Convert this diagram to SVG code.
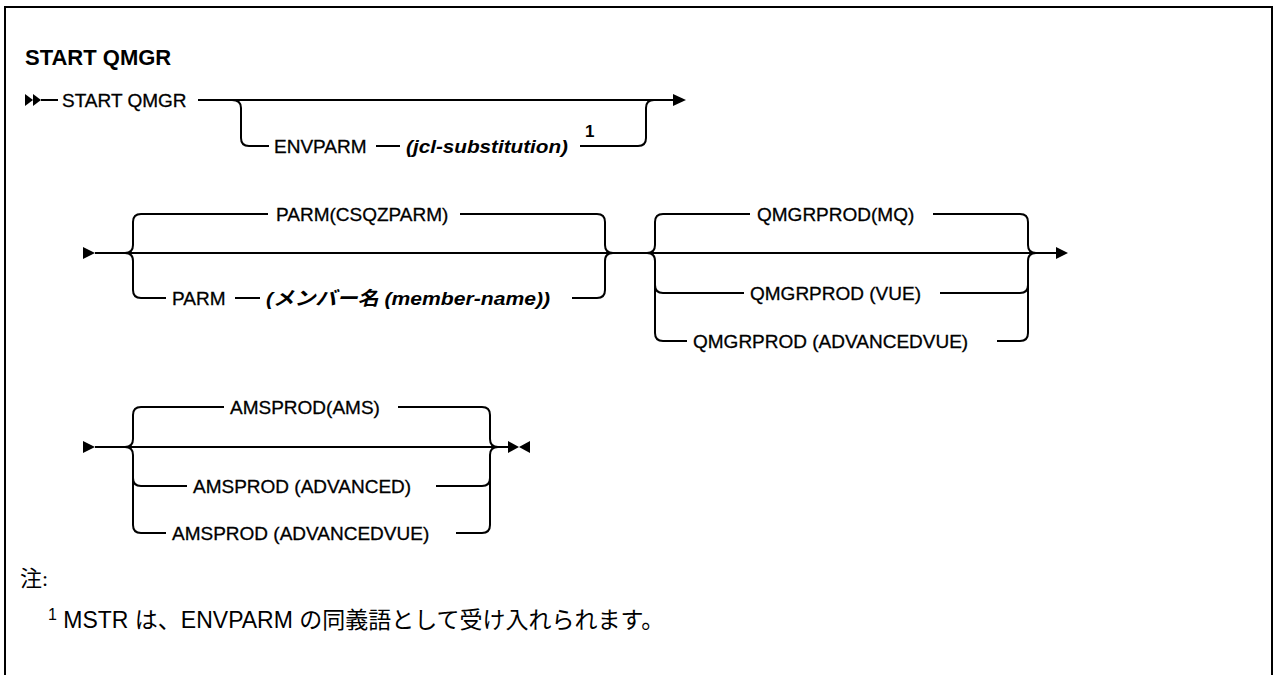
<svg xmlns="http://www.w3.org/2000/svg" width="1274" height="675" viewBox="0 0 1274 675">
<style>
.t{font-family:"Liberation Sans","Noto Sans CJK JP",sans-serif;font-size:19px;fill:#000;stroke:#000;stroke-width:0.3}
.v{font-family:"Liberation Sans","Noto Sans CJK JP",sans-serif;font-size:19px;font-weight:bold;font-style:italic;fill:#000}
.ti{font-family:"Liberation Sans",sans-serif;font-size:22px;font-weight:bold;fill:#000}
.n{font-family:"Liberation Sans","Noto Sans CJK JP",sans-serif;font-size:23px;fill:#000}
.ln{fill:none;stroke:#000;stroke-width:2}
.ah{fill:#000}
</style>
<rect x="0" y="0" width="1274" height="675" fill="#fff"/>
<path class="ln" d="M5 676 V7 H1272 V676"/>
<text class="ti" x="25" y="65">START QMGR</text>
<g id="connectors">
<polygon class="ah" points="25,94 33,100 25,106"/>
<polygon class="ah" points="33,94 41,100 33,106"/>
<path class="ln" d="M41 100 H58"/>
<path class="ln" d="M198 100 H674"/>
<polygon class="ah" points="673,94 686,100 673,106"/>
<path class="ln" d="M232 100 Q241 100 241 108 V138 Q241 146 249 146 H269"/>
<path class="ln" d="M376 146 H400"/>
<path class="ln" d="M580 146 H638 Q646 146 646 138 V108 Q646 100 654 100"/>
<polygon class="ah" points="83,247 95,253 83,259"/>
<path class="ln" d="M95 253 H1057"/>
<polygon class="ah" points="1056,247 1068,253 1056,259"/>
<path class="ln" d="M125 253 Q133 253 133 245 V222 Q133 214 141 214 H268"/>
<path class="ln" d="M460 214 H597 Q605 214 605 222 V245 Q605 253 613 253"/>
<path class="ln" d="M125 253 Q133 253 133 261 V290 Q133 298 141 298 H166"/>
<path class="ln" d="M235 298 H260"/>
<path class="ln" d="M572 298 H597 Q605 298 605 290 V261 Q605 253 613 253"/>
<path class="ln" d="M647 253 Q655 253 655 245 V222 Q655 214 663 214 H750"/>
<path class="ln" d="M933 214 H1020 Q1028 214 1028 222 V245 Q1028 253 1036 253"/>
<path class="ln" d="M647 253 Q655 253 655 261 V333 Q655 341 663 341 H687"/>
<path class="ln" d="M655 285 Q655 293 663 293 H744"/>
<path class="ln" d="M940 293 H1020 Q1028 293 1028 285"/>
<path class="ln" d="M997 341 H1020 Q1028 341 1028 333 V261 Q1028 253 1036 253"/>
<polygon class="ah" points="83,441 95,447 83,453"/>
<path class="ln" d="M95 447 H509"/>
<polygon class="ah" points="508,441 519,447 508,453"/>
<polygon class="ah" points="530,441 519,447 530,453"/>
<path class="ln" d="M125 447 Q133 447 133 439 V415 Q133 407 141 407 H224"/>
<path class="ln" d="M398 407 H482 Q490 407 490 415 V439 Q490 447 498 447"/>
<path class="ln" d="M125 447 Q133 447 133 455 V525 Q133 533 141 533 H166"/>
<path class="ln" d="M133 478 Q133 486 141 486 H187"/>
<path class="ln" d="M436 486 H482 Q490 486 490 478"/>
<path class="ln" d="M456 533 H482 Q490 533 490 525 V455 Q490 447 498 447"/>
</g>
<g id="start"><text class="t" x="62" y="107">START QMGR</text></g>
<g id="envparm"><text class="t" x="274" y="153">ENVPARM</text></g>
<g id="jcl"><text class="v" x="406" y="153" textLength="162" lengthAdjust="spacingAndGlyphs">(jcl-substitution)</text><text x="585" y="137" style="font-family:'Liberation Sans',sans-serif;font-size:17px;font-weight:bold">1</text></g>
<g id="parm-default"><text class="t" x="276" y="221">PARM(CSQZPARM)</text></g>
<g id="parm"><text class="t" x="172" y="305">PARM</text></g>
<g id="member"><text class="v" x="266" y="305" textLength="284" lengthAdjust="spacingAndGlyphs">(メンバー名 (member-name))</text></g>
<g id="qmgrprod-mq"><text class="t" x="757" y="221">QMGRPROD(MQ)</text></g>
<g id="qmgrprod-vue"><text class="t" x="750" y="300">QMGRPROD (VUE)</text></g>
<g id="qmgrprod-advvue"><text class="t" x="693" y="348">QMGRPROD (ADVANCEDVUE)</text></g>
<g id="amsprod-ams"><text class="t" x="230" y="414">AMSPROD(AMS)</text></g>
<g id="amsprod-adv"><text class="t" x="193" y="493">AMSPROD (ADVANCED)</text></g>
<g id="amsprod-advvue"><text class="t" x="172" y="540">AMSPROD (ADVANCEDVUE)</text></g>
<g id="notes">
<text x="20" y="586" style="font-family:'Liberation Serif','Noto Sans CJK JP',serif;font-size:22px">注:</text>
<text class="n" x="48" y="628"><tspan style="font-size:16px" dy="-8">1</tspan><tspan dy="8"> MSTR は、ENVPARM の同義語として受け入れられます。</tspan></text>
</g>
</svg>
